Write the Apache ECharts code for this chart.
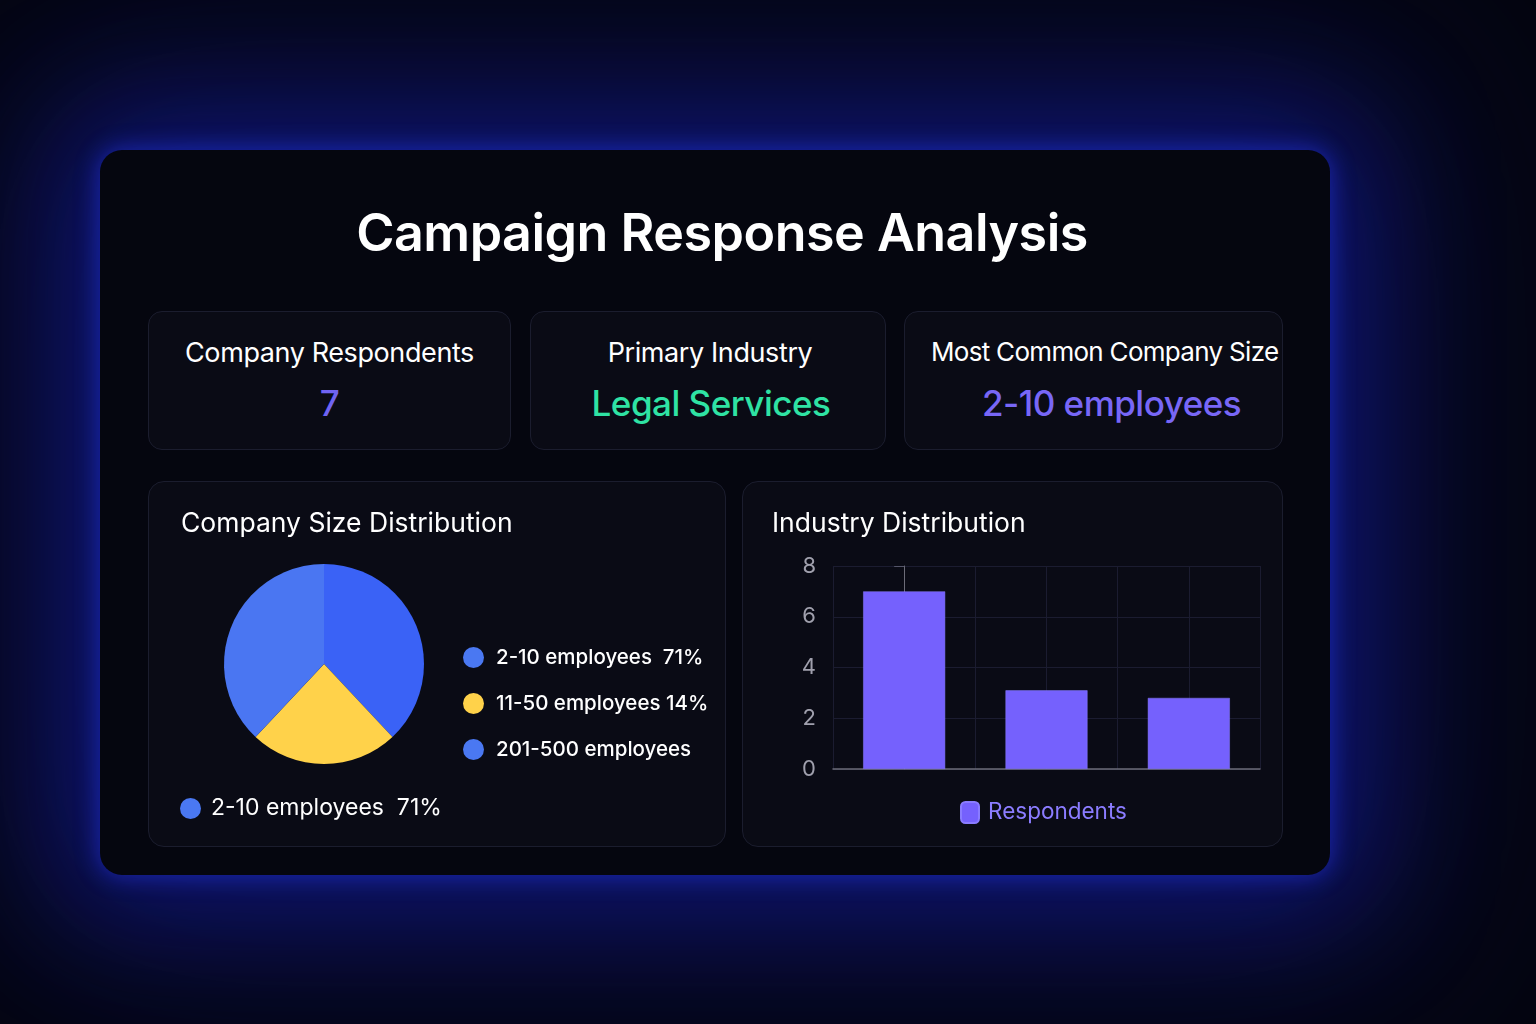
<!DOCTYPE html>
<html>
<head>
<meta charset="utf-8">
<script src="https://cdn.jsdelivr.net/npm/echarts@6/dist/echarts.min.js"></script>
<style>
  html, body { margin:0; padding:0; width:1536px; height:1024px; overflow:hidden;
    background:#04050d; font-family: Inter, "Noto Sans", sans-serif; }
  #card { position:absolute; left:100px; top:150px; width:1230px; height:725px;
    border-radius:22px; background:#05060f;
    box-shadow: 0 0 22px 3px rgba(40,60,255,0.45), 0 0 120px 45px rgba(25,35,190,0.45), 0 0 300px 110px rgba(15,20,110,0.40); }
  #title { position:absolute; left:0; width:1444px; top:201px; text-align:center;
    color:#fff; font-size:52px; font-weight:600; letter-spacing:-0.5px; }
  .kpi { position:absolute; top:311px; height:139px; border-radius:14px;
    background:#0a0b15; border:1px solid #1b1d2e; box-sizing:border-box; text-align:center; }
  .kpi .lab { position:absolute; left:0; right:0; top:24px; color:#fff; font-size:27px; font-weight:400; letter-spacing:-0.4px; white-space:nowrap; }
  .kpi .val { position:absolute; left:0; right:0; top:70px; font-size:35px; font-weight:500; letter-spacing:-0.5px; white-space:nowrap; }
  .panel { position:absolute; top:481px; height:366px; border-radius:16px;
    background:#0a0b15; border:1px solid #1b1d2e; box-sizing:border-box; }
  .ch { position:absolute; left:0; top:0; width:100%; height:100%; }
</style>
</head>
<body>
<div id="card"></div>
<div id="title">Campaign Response Analysis</div>

<div class="kpi" style="left:148px;width:363px;">
  <div class="lab" id="k1l"></div><div class="val" id="k1v" style="color:#7064f2"></div>
</div>
<div class="kpi" style="left:530px;width:356px;">
  <div class="lab" id="k2l" style="left:4px"></div><div class="val" id="k2v" style="color:#2fe3a4;left:6px"></div>
</div>
<div class="kpi" style="left:904px;width:379px;">
  <div class="lab" id="k3l" style="left:26px;text-align:left;font-size:26px;letter-spacing:-0.7px"></div><div class="val" id="k3v" style="color:#7867f6;left:36px;"></div>
</div>

<div class="panel" style="left:148px;width:578px;"><div class="ch" id="pie"></div></div>
<div class="panel" style="left:742px;width:541px;"><div class="ch" id="bar"></div></div>

<script>
// ---- data ----
const kpiLabels = ["Company Respondents", "Primary Industry", "Most Common Company Size"];
const kpiValues = ["7", "Legal Services", "2-10 employees"];

const sizeCategories = ["2-10 employees", "11-50 employees", "201-500 employees"];
const sizeShares = [38, 24, 38];           // slice shares as drawn in the picture
const sizeLegendText = ["2-10 employees  71%", "11-50 employees 14%", "201-500 employees"];
const sizeColors = ["#3a62f6", "#ffd24a", "#4a76f2"];
const sizeLegendColors = ["#4a78f2", "#ffd24a", "#4a78f2"];

const industryPositions = [0, 1, 2];
const industryValues = [7, 3.1, 2.8];
const seriesName = "Respondents";
const yTicks = [0, 2, 4, 6, 8];

// ---- KPIs ----
["k1","k2","k3"].forEach((k,i)=>{
  document.getElementById(k+"l").textContent = kpiLabels[i];
  document.getElementById(k+"v").textContent = kpiValues[i];
});

const font = 'Inter, "Noto Sans", sans-serif';

// ---- pie ----
const pie = echarts.init(document.getElementById('pie'));
pie.setOption({
  animation:false,
  backgroundColor:'transparent',
  title:{ text:'Company Size Distribution', left:27, top:24,
    textStyle:{ color:'#fff', fontSize:26.5, fontWeight:400, fontFamily:font } },
  legend:[{
    orient:'vertical', left:309, top:160, itemGap:25, itemWidth:21, itemHeight:21,
    icon:'circle',
    data: sizeCategories.map((c,i)=>({ name:c, itemStyle:{color:sizeLegendColors[i]} })),
    formatter: n => sizeLegendText[sizeCategories.indexOf(n)],
    textStyle:{ color:'#fff', fontSize:20.5, fontWeight:500, fontFamily:font, padding:[0,0,0,7] },
    selectedMode:false
  },{
    orient:'horizontal', left:26, top:310, itemWidth:21, itemHeight:21, icon:'circle',
    data:[{ name:sizeCategories[0], itemStyle:{color:sizeLegendColors[0]} }],
    formatter: n => n + '  71%',
    textStyle:{ color:'#fff', fontSize:23, fontWeight:400, fontFamily:font, padding:[0,0,0,5] },
    selectedMode:false
  }],
  series:[{
    type:'pie', center:[175,182], radius:100, startAngle:90, clockwise:true,
    label:{show:false}, labelLine:{show:false},
    data: sizeCategories.map((c,i)=>({ name:c, value:sizeShares[i], itemStyle:{color:sizeColors[i]} }))
  }]
});

// ---- bar ----
const bar = echarts.init(document.getElementById('bar'));
bar.setOption({
  animation:false,
  backgroundColor:'transparent',
  title:{ text:'Industry Distribution', left:24, top:24,
    textStyle:{ color:'#fff', fontSize:26.5, fontWeight:400, fontFamily:font } },
  grid:{ left:90, right:22, top:84, bottom:77 },
  legend:{ left:212, top:314, itemWidth:18, itemHeight:21, icon:'roundRect',
    data:[seriesName], selectedMode:false,
    textStyle:{ color:'#8b7cff', fontSize:22.5, fontWeight:400, fontFamily:font, padding:[0,0,0,4] } },
  xAxis:{ type:'value', min:-0.5, max:2.5, interval:0.5,
    axisLabel:{show:false}, axisTick:{show:false},
    axisLine:{ show:true, onZero:false, lineStyle:{color:'#6c6c78', width:1.5} },
    splitLine:{ show:true, lineStyle:{color:'#1b1c30', width:1} } },
  yAxis:{ type:'value', min:yTicks[0], max:yTicks[yTicks.length-1], interval:2,
    axisLine:{ show:true, lineStyle:{color:'#6c6c78', width:1} },
    axisTick:{ show:true, length:10, lineStyle:{color:'#55566a'} },
    axisLabel:{ color:'#a0a0ad', fontSize:22, fontFamily:font, margin:17 },
    splitLine:{ show:true, lineStyle:{color:'#1b1c30', width:1} } },
  series:[{
    name:seriesName, type:'bar', barWidth:82,
    itemStyle:{ color:'#7561fd', borderColor:'#8a7cff', borderWidth:0.5 },
    data: industryPositions.map((p,i)=>[p, industryValues[i]])
  }]
});
</script>
</body>
</html>
